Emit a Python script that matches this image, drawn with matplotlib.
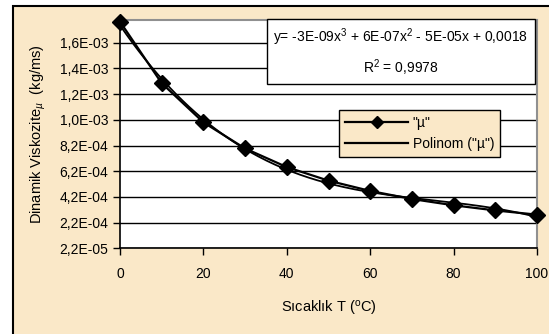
import numpy as np
import matplotlib
matplotlib.use('Agg')
import matplotlib.pyplot as plt
from matplotlib.lines import Line2D

plt.rcParams['font.family'] = ['Liberation Sans', 'DejaVu Sans']
plt.rcParams['mathtext.fontset'] = 'custom'
plt.rcParams['mathtext.rm'] = 'Liberation Sans'
plt.rcParams['mathtext.it'] = 'Liberation Sans:italic'

# water dynamic viscosity vs temperature
temp = [0, 10, 20, 30, 40, 50, 60, 70, 80, 90, 100]
mu = [1.787e-3, 1.307e-3, 1.002e-3, 0.798e-3, 0.653e-3, 0.547e-3,
      0.467e-3, 0.404e-3, 0.355e-3, 0.315e-3, 0.282e-3]
yticks = [2.2e-05, 2.2e-04, 4.2e-04, 6.2e-04, 8.2e-04, 1.022e-03,
          1.222e-03, 1.422e-03, 1.622e-03]
ytick_labels = ['2,2E-05', '2,2E-04', '4,2E-04', '6,2E-04', '8,2E-04',
                '1,0E-03', '1,2E-03', '1,4E-03', '1,6E-03']
xticks = [0, 20, 40, 60, 80, 100]

bg = '#FAE8C8'
W, H = 549, 334
fs = 10

fig = plt.figure(figsize=(W / 100, H / 100), dpi=100)
fig.patch.set_facecolor('white')

# chart area (beige, black border on left/top only)
fig.add_artist(plt.Rectangle((13 / W, -0.1), 1.2, 1.1 - 6 / H, transform=fig.transFigure,
                             facecolor=bg, edgecolor='black', lw=1.5, zorder=-1))

ax = fig.add_axes([120 / W, 1 - 248 / H, (537 - 120) / W, (248 - 20) / H])
ax.set_facecolor('white')

# polynomial trendline (3rd order), as Excel does
coef = np.polyfit(temp, mu, 3)
xs = np.linspace(0, 100, 200)
ax.plot(xs, np.polyval(coef, xs), color='black', lw=1.3, zorder=3)
ax.plot(temp, mu, color='black', lw=1.6, marker='D', markersize=8,
        zorder=4, clip_on=False)

ax.set_xlim(0, 100)
ax.set_ylim(2.2e-05, 1.8e-03)
ax.set_xticks(xticks)
ax.set_yticks(yticks)
ax.set_yticklabels(ytick_labels)
ax.tick_params(axis='both', labelsize=fs, direction='out', length=5, width=1,
               color='black')
ax.tick_params(axis='x', pad=9)
ax.grid(axis='y', color='black', lw=1)
ax.set_axisbelow(True)

for s in ['left', 'bottom']:
    ax.spines[s].set_color('black')
    ax.spines[s].set_linewidth(1.2)
for s in ['top', 'right']:
    ax.spines[s].set_color('#909090')
    ax.spines[s].set_linewidth(1.5)

ax.set_ylabel('Dinamik Viskozite$_{\u00b5}$  (kg/ms)', fontsize=fs + 0.5, labelpad=8)
ax.set_xlabel('S\u0131cakl\u0131k T ($^{\\mathrm{o}}$C)', fontsize=fs + 0.5, labelpad=13)

# trendline equation box
ax.text(0.674, 0.86,
        'y= -3E-09x$^{3}$ + 6E-07x$^{2}$ - 5E-05x + 0,0018\nR$^{2}$ = 0,9978',
        transform=ax.transAxes, ha='center', va='center', fontsize=fs,
        multialignment='center', linespacing=1.6, zorder=6,
        bbox=dict(boxstyle='square,pad=0.45', facecolor='white',
                  edgecolor='black', lw=1))

handles = [Line2D([], [], color='black', lw=1.6, marker='D', markersize=6),
           Line2D([], [], color='black', lw=1.6)]
leg = ax.legend(handles, ['"\u00b5"', 'Polinom ("\u00b5")'], loc='upper left',
                bbox_to_anchor=((339 - 120) / 417, 1 - (110 - 20) / 228),
                fontsize=fs, frameon=True, fancybox=False, framealpha=1,
                facecolor=bg, edgecolor='black', handlelength=4.6,
                borderpad=0.4, labelspacing=0.55, handletextpad=0.3,
                borderaxespad=0)
leg.get_frame().set_linewidth(1)
leg.set_zorder(6)

fig.savefig('out.png', dpi=100, facecolor=fig.get_facecolor())
